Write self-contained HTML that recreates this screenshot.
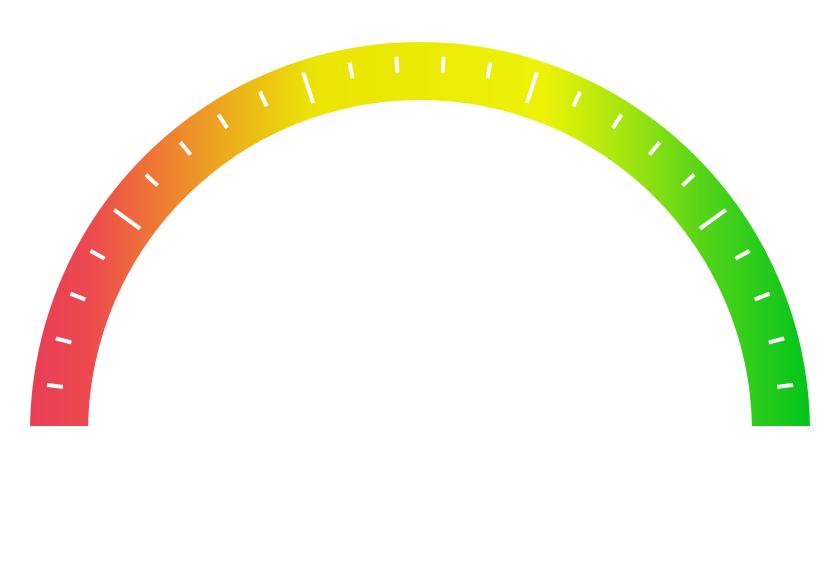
<!DOCTYPE html>
<html><head><meta charset="utf-8"><style>html,body{margin:0;padding:0;background:#fff;width:840px;height:586px;overflow:hidden}</style></head>
<body>
<svg id="g" width="840" height="586" viewBox="0 0 840 586" xmlns="http://www.w3.org/2000/svg">
<defs>
<linearGradient id="grad" x1="28" y1="0" x2="812" y2="0" gradientUnits="userSpaceOnUse">
<stop offset="0" stop-color="#ea3d58"/>
<stop offset="0.08" stop-color="#ec4a4e"/>
<stop offset="0.16" stop-color="#ef7635"/>
<stop offset="0.27" stop-color="#ecb41a"/>
<stop offset="0.36" stop-color="#ebe304"/>
<stop offset="0.66" stop-color="#ecf206"/>
<stop offset="0.76" stop-color="#a5e610"/>
<stop offset="0.86" stop-color="#55d418"/>
<stop offset="1" stop-color="#00c41c"/>
</linearGradient>
</defs>
<path id="band" fill="url(#grad)"/>
<g id="ticks"></g>
</svg>
<script>
const tickCount = [24];
const majorEvery = [5];
const cx=420, cy=432, rOut=390, rIn=332, yCut=426;
const a0=Math.asin((cy-yCut)/rOut), a1=Math.asin((cy-yCut)/rIn);
function pt(r,a){return [cx-r*Math.cos(a), cy-r*Math.sin(a)];}
const p1=pt(rOut,a0), p2=pt(rOut,Math.PI-a0), p3=pt(rIn,Math.PI-a1), p4=pt(rIn,a1);
document.getElementById('band').setAttribute('d',
 `M${p1} A${rOut} ${rOut} 0 0 1 ${p2} L${p3} A${rIn} ${rIn} 0 0 0 ${p4} Z`);
const g=document.getElementById('ticks');
const n=tickCount[0], step=Math.PI/(n+1);
for(let i=1;i<=n;i++){
  const a=i*step, major=i%majorEvery[0]===0;
  const rA=major?346:360, rB=major?378:376;
  const [x1,y1]=pt(rA,a),[x2,y2]=pt(rB,a);
  const l=document.createElementNS('http://www.w3.org/2000/svg','line');
  l.setAttribute('x1',x1);l.setAttribute('y1',y1);l.setAttribute('x2',x2);l.setAttribute('y2',y2);
  l.setAttribute('stroke','#fff');l.setAttribute('stroke-width','4');
  
  
  g.appendChild(l);
}
</script>
</body></html>
